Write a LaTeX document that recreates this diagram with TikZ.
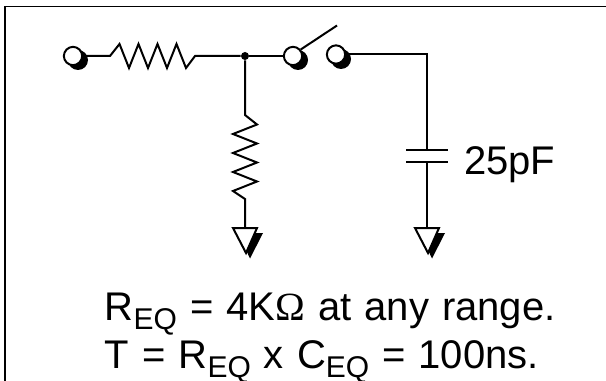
\documentclass[tikz,border=0pt]{standalone}
\usepackage{fontspec}
\setmainfont{Liberation Sans}
\newfontfamily\symbfont{Liberation Serif}
\newcommand{\subeq}{\raisebox{-7pt}[0pt][0pt]{\fontsize{22.5pt}{22.5pt}\selectfont EQ}}
\begin{document}
\begin{tikzpicture}[x=0.75pt,y=-0.75pt,
  wire/.style={line width=1.5pt,line join=miter},
  lbl/.style={inner sep=0pt,anchor=base west,font=\fontsize{30pt}{30pt}\selectfont},
  termshadow/.style={circle,fill=black,minimum size=15pt,inner sep=0pt},
  termface/.style={circle,fill=white,draw=black,line width=1.5pt,minimum size=13.7pt,inner sep=0pt},
  dotnode/.style={circle,fill=black,inner sep=0pt,minimum size=6pt}]
\useasboundingbox (0,0) rectangle (606,381);
\path[fill=white] (0,0) rectangle (606,381);
\draw[line width=1.3pt] (5,381) -- (5,6.5) -- (606,6.5);
% nodes
\coordinate (r1a) at (110,56);
\coordinate (r1b) at (195,56);
\node[dotnode] (j) at (245,56) {};
\coordinate (r2a) at (245,115);
\coordinate (r2b) at (245,199);
\coordinate (g1) at (245,228);
\coordinate (g2) at (427,228);
\coordinate (c1) at (427,150);
\coordinate (c2) at (427,162);
\coordinate (corner) at (427,54.5);
\coordinate (swtip) at (337,25.5);
% terminals
\node[termshadow] at (78,60) {};
\node[termface] (t1) at (73,56) {};
\node[termshadow] at (298,60) {};
\node[termface] (t2) at (293,56) {};
\node[termshadow] at (341,59) {};
\node[termface] (t3) at (336,54.5) {};
% wires
\draw[wire] (t1) -- (r1a) -- ++(9.5,-12) -- ++(9.5,24) -- ++(9.5,-24) -- ++(9.5,24) -- ++(9.5,-24) -- ++(9.5,24) -- ++(9.5,-24) -- ++(9.5,24) -- (r1b) -- (j);
\draw[wire] (j) -- (t2);
\draw[wire] (t2.40) -- (swtip);
\draw[wire] (j) -- (r2a) -- ++(12,9.5) -- ++(-24,9.5) -- ++(24,9.5) -- ++(-24,9.5) -- ++(24,9.5) -- ++(-24,9.5) -- ++(24,9.5) -- ++(-24,9.5) -- (r2b) -- (g1);
\draw[wire] (t3) -- (corner) -- (c1);
\draw[wire] (c2) -- (g2);
\draw[wire] (406,150) -- (448,150);
\draw[wire] (406,162) -- (448,162);
% grounds
\foreach \g in {g1,g2}{
  \fill[black] ([shift={(8,5)}]\g) -- ([shift={(18,5)}]\g) -- ([shift={(5,30.5)}]\g) -- ([shift={(1,22)}]\g) -- cycle;
  \draw[wire,fill=white] ([shift={(-12,0)}]\g) -- ([shift={(12,0)}]\g) -- ([shift={(1,25)}]\g) -- cycle;
}
% text
\node[lbl] (v) at (464,175) {25pF};
\node[lbl] (e1) at (104.5,320) {\spaceskip=9.8pt R\subeq{} = 4K{\symbfont Ω} at any range.};
\node[lbl] (e2) at (104.5,368) {\spaceskip=9.8pt T = R\subeq{} x C\subeq{} = 100ns.};
\end{tikzpicture}
\end{document}
